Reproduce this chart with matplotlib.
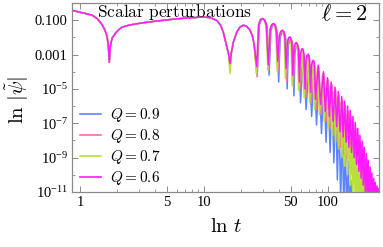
import numpy as np
import matplotlib
matplotlib.use("Agg")
import matplotlib.pyplot as plt
from matplotlib.ticker import FixedLocator, FixedFormatter, NullFormatter

plt.rcParams['font.family'] = ['Liberation Serif', 'DejaVu Serif']
plt.rcParams['mathtext.fontset'] = 'cm'

# общая начальная часть (все Q совпадают), t и log10|psi|
common_t = [0.86, 1.0, 1.12, 1.25, 1.38, 1.50, 1.58, 1.65, 1.69, 1.72, 1.75, 1.81, 1.93,
            2.05, 2.18, 2.5, 2.97, 3.6, 4.4, 5.5, 7.0, 8.5, 10.0, 11.3, 12.7, 13.6, 14.3,
            15.2, 15.8, 16.6, 17.2, 18.4, 19.5, 20.7, 22.0, 23.5, 24.5, 25.3]
common_lg = [-0.42, -0.54, -0.62, -0.71, -0.92, -1.25, -1.55, -1.95, -2.5, -3.45, -2.55, -2.05, -1.75,
             -1.55, -1.40, -1.28, -1.19, -1.10, -1.03, -0.95, -0.88, -0.84, -0.81, -0.86, -1.02, -1.3, -1.7,
             -2.5, -3.0, -2.9, -2.3, -1.68, -1.40, -1.29, -1.35, -1.58, -1.9, -2.36]

# Q = 0.6
q06_dip16 = -3.52
q06_dip_t = [26.6, 33.0, 39.3, 45.9, 52.0, 58.8, 65.3, 72.4, 79.3, 87.0, 95.0, 102.5, 110.0, 117.5,
             125.0, 132.5, 140.0, 147.5, 155.0, 162.5, 170.0, 177.5, 185.0, 192.5, 200.0, 207.5,
             215.0, 222.5, 230.0, 237.5, 245.0, 252.5]
q06_dip_lg = [-3.7, -3.6, -3.4, -3.8, -4.2, -4.6, -5.0, -5.2, -5.6, -5.9, -6.3, -6.6, -6.9, -7.2,
              -7.5, -7.8, -8.1, -8.4, -8.7, -9.0, -9.4, -9.8, -10.2, -10.6, -11.0, -11.4,
              -11.8, -12.0, -12.0, -12.0, -12.0, -12.0]
q06_peak_t = [29.5, 36.2, 42.8, 49.1, 55.4, 62.1, 69.0, 76.0, 83.4, 91.8, 99.0, 106.0, 114.0, 121.0,
              129.0, 136.0, 144.0, 151.0, 159.0, 166.0, 174.0, 181.0, 189.0, 196.0, 204.0, 211.0,
              219.0, 226.0, 234.0, 241.0, 249.0, 256.0]
q06_peak_lg = [-0.90, -1.19, -1.58, -1.97, -2.30, -2.65, -2.98, -3.33, -3.62, -4.00, -4.35, -4.60, -4.90, -5.15,
               -5.45, -5.70, -6.00, -6.25, -6.60, -6.95, -7.30, -7.70, -8.05, -8.40, -8.75, -9.15,
               -9.55, -9.90, -10.20, -10.45, -10.65, -10.80]
q06_sh_t = [27.6, 28.5, 30.7, 31.8, 34.1, 35.1, 37.2, 38.3, 40.4, 41.6, 43.9, 44.9, 47.0, 48.0, 50.1, 51.0,
            53.1, 54.3, 56.5, 57.7, 59.9, 61.0, 63.1, 64.2, 66.5, 67.8, 70.1, 71.3, 73.6, 74.8, 77.1, 78.2]
q06_sh_lg = [-1.25, -0.97, -0.98, -1.30, -1.55, -1.27, -1.27, -1.60, -1.92, -1.65, -1.67, -1.98,
             -2.30, -2.04, -2.05, -2.35, -2.62, -2.37, -2.39, -2.70, -2.97, -2.72, -2.73, -3.02,
             -3.30, -3.05, -3.06, -3.36, -3.65, -3.40, -3.41, -3.70]

# Q = 0.7
q07_dip16 = -4.1
q07_dip_t = [26.4, 32.7, 38.9, 45.3, 51.3, 57.9, 64.2, 71.1, 77.8, 85.3, 93.0, 100.3, 107.6, 114.9,
             122.2, 129.5, 136.8, 144.1, 151.4, 158.7, 166.0, 173.3, 180.6, 187.9, 195.2, 202.5,
             209.8, 217.1, 224.4, 231.7, 239.0, 246.3]
q07_dip_lg = [-4.1, -3.9, -4.0, -4.4, -4.8, -5.1, -5.5, -5.8, -6.2, -6.5, -6.9, -7.3, -7.7, -8.1,
              -8.5, -9.0, -9.5, -10.0, -10.6, -11.2, -12.0, -12.0, -12.0, -12.0, -12.0, -12.0,
              -12.0, -12.0, -12.0, -12.0, -12.0, -12.0]
q07_peak_t = [29.3, 35.9, 42.4, 48.6, 54.8, 61.3, 68.0, 74.8, 82.0, 90.1, 97.0, 104.0, 111.3, 118.6,
              125.9, 133.2, 140.5, 147.8, 155.1, 162.4, 169.7, 177.0, 184.3, 191.6, 198.9, 206.2,
              213.5, 220.8, 228.1, 235.4, 242.7, 250.0]
q07_peak_lg = [-0.92, -1.21, -1.61, -2.01, -2.37, -2.73, -3.08, -3.44, -3.77, -4.16, -4.52, -4.84, -5.16, -5.48,
               -5.80, -6.12, -6.48, -6.82, -7.20, -7.58, -8.00, -8.42, -8.85, -9.28, -9.72, -10.16,
               -10.60, -11.05, -11.50, -12.0, -12.0, -12.0]
q07_sh_t = [27.4, 28.3, 30.5, 31.6, 33.8, 34.8, 36.9, 37.9, 40.0, 41.2, 43.4, 44.4,
            46.4, 47.5, 49.6, 50.4, 52.4, 53.6, 55.9, 57.0]
q07_sh_lg = [-1.27, -0.99, -1.00, -1.33, -1.58, -1.30, -1.30, -1.64, -1.96, -1.69, -1.71, -2.04,
             -2.37, -2.10, -2.11, -2.45, -2.72, -2.47, -2.49, -2.82]

# Q = 0.8
q08_dip16 = -3.7
q08_dip_t = [26.8, 33.3, 39.7, 46.4, 52.6, 59.5, 66.1, 73.3, 80.3, 88.1, 96.2, 103.8, 111.4, 119.0,
             126.6, 134.2, 141.8, 149.4, 157.0, 164.6, 172.2, 179.8, 187.4, 195.0, 202.6, 210.2,
             217.8, 225.4, 233.0, 240.6, 248.2, 255.8]
q08_dip_lg = [-4.3, -3.9, -4.0, -4.6, -4.9, -5.0, -5.5, -5.8, -6.2, -6.5, -6.9, -7.3, -7.7, -8.0,
              -8.4, -8.8, -9.2, -9.6, -10.0, -10.4, -10.9, -11.4, -12.0, -12.0, -12.0, -12.0,
              -12.0, -12.0, -12.0, -12.0, -12.0, -12.0]
q08_peak_t = [29.7, 36.5, 43.1, 49.6, 55.9, 62.8, 69.7, 76.8, 84.3, 92.7, 100.0, 107.6, 115.2, 122.8,
              130.4, 138.0, 145.6, 153.2, 160.8, 168.4, 176.0, 183.6, 191.2, 198.8, 206.4, 214.0,
              221.6, 229.2, 236.8, 244.4, 252.0, 259.6]
q08_peak_lg = [-0.90, -1.20, -1.60, -2.00, -2.35, -2.70, -3.05, -3.40, -3.72, -4.10, -4.45, -4.75, -5.05, -5.35,
               -5.65, -5.95, -6.30, -6.60, -6.95, -7.30, -7.70, -8.10, -8.50, -8.90, -9.30, -9.70,
               -10.10, -10.50, -10.90, -11.30, -11.70, -12.0]
q08_sh_t = [27.8, 28.7, 30.9, 32.1, 34.4, 35.4, 37.6, 38.6, 40.8, 41.9, 44.2, 45.3,
            47.5, 48.5, 50.6, 51.6, 53.7, 54.8, 57.0, 58.3]
q08_sh_lg = [-1.25, -0.97, -0.98, -1.30, -1.56, -1.28, -1.28, -1.62, -1.94, -1.67, -1.69, -2.01,
             -2.34, -2.07, -2.08, -2.40, -2.67, -2.42, -2.44, -2.75]

# Q = 0.9
q09_dip16 = -3.8
q09_dip_t = [26.9, 33.5, 40.0, 46.8, 53.1, 60.0, 66.6, 73.8, 80.8, 88.6, 96.5, 104.0, 111.5, 119.0,
             126.5, 134.0, 141.5, 149.0, 156.5, 164.0, 171.5, 179.0, 186.5]
q09_dip_lg = [-4.0, -4.2, -4.6, -5.0, -5.4, -5.8, -6.2, -6.6, -7.1, -7.6, -8.1, -8.7, -9.3, -10.3,
              -11.5, -12.0, -12.0, -12.0, -12.0, -12.0, -12.0, -12.0, -12.0]
q09_peak_t = [29.8, 36.7, 43.4, 50.0, 56.4, 63.3, 70.2, 77.3, 84.7, 92.6, 100.2, 107.7, 115.2, 122.7,
              130.2, 137.7, 145.2, 152.7, 160.2, 167.7, 175.2, 182.7]
q09_peak_lg = [-0.93, -1.25, -1.68, -2.10, -2.50, -2.92, -3.32, -3.74, -4.12, -4.58, -5.02, -5.45, -5.90, -6.50,
               -7.30, -8.20, -9.20, -10.30, -11.50, -12.0, -12.0, -12.0]
q09_sh_t = [27.9, 28.8, 31.0, 32.3, 34.6, 35.6, 37.8, 38.9, 41.1, 42.3, 44.5, 45.6,
            47.9, 48.9, 51.1, 52.0, 54.2, 55.3, 57.6, 58.8]
q09_sh_lg = [-1.28, -1.00, -1.01, -1.35, -1.62, -1.34, -1.35, -1.70, -2.04, -1.76, -1.78, -2.12,
             -2.46, -2.18, -2.20, -2.54, -2.84, -2.58, -2.60, -2.95]

labels = ['$Q = 0.9$', '$Q = 0.8$', '$Q = 0.7$', '$Q = 0.6$']
colors = ['#5b84ff', '#ff6ea6', '#b8e03c', '#ff1aff']

y_ticks = [1e-1, 1e-3, 1e-5, 1e-7, 1e-9, 1e-11]
y_labels = ['0.100', '0.001', r'$\mathdefault{10^{-5}}$', r'$\mathdefault{10^{-7}}$',
            r'$\mathdefault{10^{-9}}$', r'$\mathdefault{10^{-11}}$']
y_minor = [1e-2, 1e-4, 1e-6, 1e-8, 1e-10]
x_ticks = [1, 5, 10, 50, 100]
x_labels = ['1', '5', '10', '50', '100']
x_minor = [2, 3, 4, 6, 7, 8, 9, 20, 30, 40, 60, 70, 80, 90, 200]


def build(dip16, dip_t, dip_lg, peak_t, peak_lg, sh_t, sh_lg):
    t = np.concatenate([common_t, [16.2], dip_t, peak_t, sh_t])
    lg = np.concatenate([common_lg, [dip16], dip_lg, peak_lg, sh_lg])
    order = np.argsort(t)
    return t[order], 10.0 ** lg[order]


series = [
    build(q09_dip16, q09_dip_t, q09_dip_lg, q09_peak_t, q09_peak_lg, q09_sh_t, q09_sh_lg),
    build(q08_dip16, q08_dip_t, q08_dip_lg, q08_peak_t, q08_peak_lg, q08_sh_t, q08_sh_lg),
    build(q07_dip16, q07_dip_t, q07_dip_lg, q07_peak_t, q07_peak_lg, q07_sh_t, q07_sh_lg),
    build(q06_dip16, q06_dip_t, q06_dip_lg, q06_peak_t, q06_peak_lg, q06_sh_t, q06_sh_lg),
]

fig = plt.figure(figsize=(3.83, 2.47), dpi=100)
ax = fig.add_axes([0.188, 0.2227, 0.8016, 0.765])

for (t, psi), lab, c in zip(series, labels, colors):
    ax.plot(t, psi, color=c, lw=1.1, label=lab)

ax.set_xscale('log')
ax.set_yscale('log')
ax.set_xlim(0.86, 258)
ax.set_ylim(1e-11, 1)

ax.yaxis.set_major_locator(FixedLocator(y_ticks))
ax.yaxis.set_major_formatter(FixedFormatter(y_labels))
ax.yaxis.set_minor_locator(FixedLocator(y_minor))
ax.yaxis.set_minor_formatter(NullFormatter())
ax.xaxis.set_major_locator(FixedLocator(x_ticks))
ax.xaxis.set_major_formatter(FixedFormatter(x_labels))
ax.xaxis.set_minor_locator(FixedLocator(x_minor))
ax.xaxis.set_minor_formatter(NullFormatter())

for s in ax.spines.values():
    s.set_color('#8a8a8a')
    s.set_linewidth(0.9)
ax.tick_params(which='both', direction='in', top=True, right=True, color='#8a8a8a',
               labelsize=10.5, labelcolor='black', pad=3)
ax.tick_params(which='major', length=4, width=0.7)
ax.tick_params(which='minor', length=2.2, width=0.6)

ax.set_xlabel(r'$\ln\, t$', fontsize=15, va='center')
ax.set_ylabel(r'$\ln\, |\tilde{\psi}|$', fontsize=15, va='center')
ax.xaxis.set_label_coords(0.502, -0.19)
ax.yaxis.set_label_coords(-0.179, 0.487)

ax.text(0.335, 0.952, r'$\mathrm{Scalar\ perturbations}$', transform=ax.transAxes,
        ha='center', va='center', fontsize=12.5)
ax.text(0.886, 0.937, r'$\ell = 2$', transform=ax.transAxes,
        ha='center', va='center', fontsize=16)

leg = ax.legend(loc='upper left', bbox_to_anchor=(0.025, 0.455), frameon=False,
                fontsize=11, handlelength=1.4, handletextpad=0.6, labelspacing=0.2,
                borderpad=0, borderaxespad=0)
for line in leg.get_lines():
    line.set_linewidth(1.2)

fig.savefig('out.png', dpi=100)
